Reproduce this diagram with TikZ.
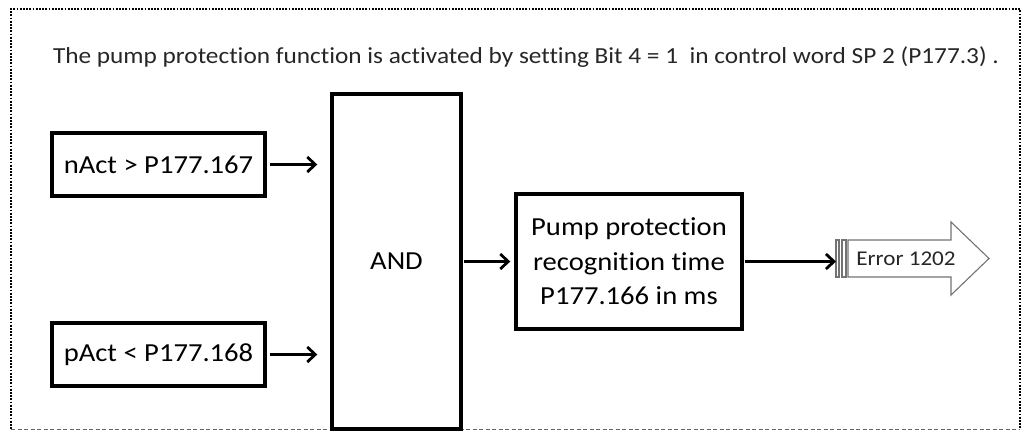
\documentclass[tikz,border=0pt]{standalone}
\usepackage{fontspec}
\setmainfont{Carlito}[FakeStretch=1.1,Ligatures={NoCommon}]
\usetikzlibrary{arrows.meta}
\begin{document}
\begin{tikzpicture}[x=1pt,y=-1pt,
  blk/.style={draw=black,line width=3.4pt,fill=white,inner sep=0pt,align=center,font=\fontsize{26}{34.5}\selectfont},
  arr/.style={line width=3pt,-{Straight Barb[length=8pt,width=15pt,line width=2.8pt]}},
  errline/.style={draw=black!55,line width=1.1pt,fill=white}]
\useasboundingbox (0,0) rectangle (1023,432);
% frame
\draw[line width=2.6pt,dash pattern=on 1.8pt off 1.4pt] (11,429) -- (11,9) -- (1020,9) -- (1020,429);
\draw[line width=1pt,black!60,dash pattern=on 4pt off 2.5pt] (11,429.5) -- (1020,429.5);
% title
\node[font=\fontsize{23}{26}\selectfont,text=black!85,anchor=base] (title) at (526,63.5)
  {The pump protection function is activated by setting Bit 4 = 1\ \ in control word SP 2 (P177.3) .};
% blocks
\node[blk,minimum width=213pt,minimum height=63pt] (n) at (158.5,164.5) {nAct > P177.167};
\node[blk,minimum width=213pt,minimum height=63pt] (p) at (158.5,354.5) {pAct < P177.168};
\node[blk,minimum width=129pt,minimum height=335pt] (and) at (396.5,261.5) {AND};
\node[blk,minimum width=226pt,minimum height=135pt] (pump) at (629,261.5) {Pump protection\\recognition time\\P177.166 in ms};
% error arrow
\coordinate (etail) at (836,260);
\draw[errline] (848,240) -- (951,240) -- (951,222) -- (989,258.5) -- (951,295) -- (951,277) -- (848,277) -- cycle;
\draw[errline] (836,240) rectangle (839,277);
\draw[errline] (842,240) rectangle (846,277);
\node[font=\fontsize{21}{24}\selectfont,text=black!85] (err) at (906,259) {Error 1202};
% connectors
\draw[arr,shorten <=3pt,shorten >=13pt] (n.east) -- (n.east -| and.west);
\draw[arr,shorten <=3pt,shorten >=13pt] (p.east) -- (p.east -| and.west);
\draw[arr,shorten <=1pt,shorten >=4pt] (and.east |- pump.west) -- (pump.west);
\draw[arr,shorten <=1pt] (pump.east) -- (pump.east -| etail);
\end{tikzpicture}
\end{document}
